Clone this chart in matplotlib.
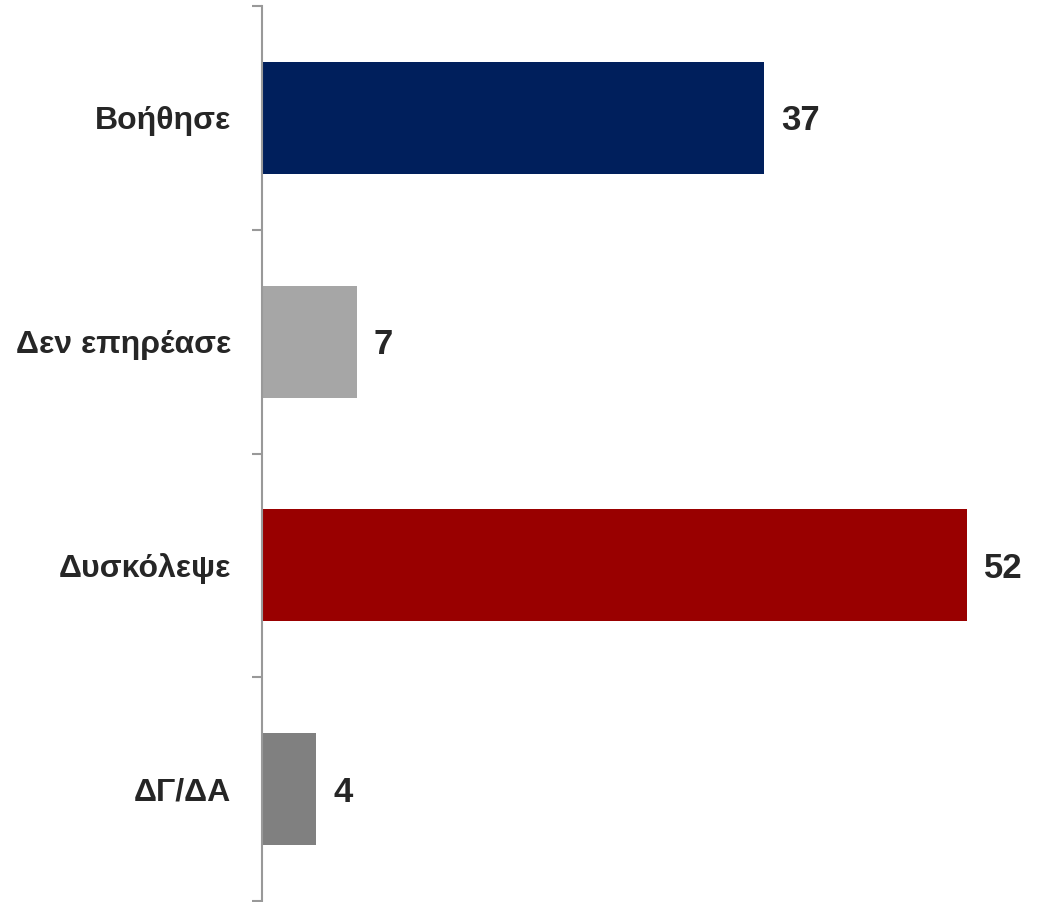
import matplotlib
matplotlib.use('Agg')
import matplotlib.pyplot as plt

categories = ['Βοήθησε', 'Δεν επηρέασε', 'Δυσκόλεψε', 'ΔΓ/ΔΑ']
values = [37, 7, 52, 4]
colors = ['#001F5C', '#A6A6A6', '#990000', '#808080']

plt.rcParams['font.family'] = ['Liberation Sans', 'DejaVu Sans']

W, H = 1043, 902
fig = plt.figure(figsize=(W / 100, H / 100), dpi=100)
ax = fig.add_axes([262 / W, 1 - 901 / H, (W - 262) / W, 895 / H])

y = list(range(len(categories)))
ax.barh(y, values, height=0.5, color=colors)
ax.set_ylim(3.5, -0.5)
ax.set_xlim(0, (W - 262) / 13.56)

# value labels right of the bars
for yi, v in zip(y, values):
    ax.annotate(str(v), (v, yi), xytext=(17, -3), textcoords='offset pixels',
                va='center', ha='left', fontsize=25, fontweight='bold', color='#262626')

ax.set_yticks([-0.5, 0.5, 1.5, 2.5, 3.5])
ax.set_yticklabels([])
ax.tick_params(axis='y', which='major', length=7.5, width=1.5, color='#999999', direction='out')
ax.set_yticks(y, minor=True)
ax.set_yticklabels(categories, minor=True, fontsize=23, fontweight='bold', color='#262626')
ax.tick_params(axis='y', which='minor', length=0, pad=22)

ax.set_xticks([])
for s in ['top', 'right', 'bottom']:
    ax.spines[s].set_visible(False)
ax.spines['left'].set_color('#999999')
ax.spines['left'].set_linewidth(1.5)

fig.savefig('out.png', dpi=100)
